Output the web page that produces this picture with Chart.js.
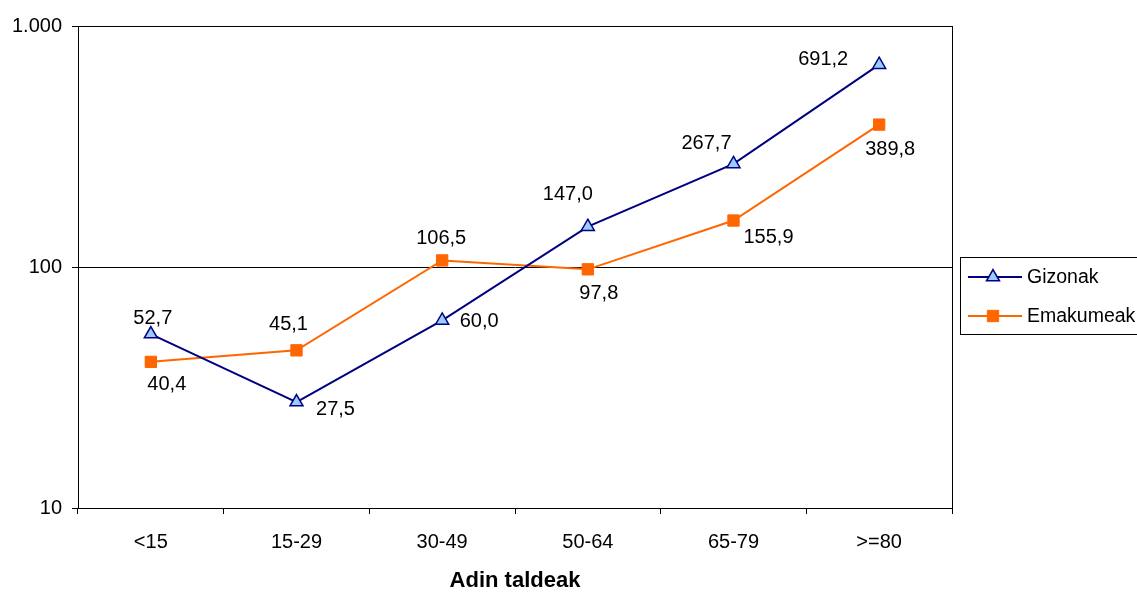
<!DOCTYPE html>
<html>
<head>
<meta charset="utf-8">
<script src="https://cdn.jsdelivr.net/npm/chart.js@4/dist/chart.umd.min.js"></script>
<style>
  body { margin: 0; background: #fff; }
  canvas { display: block; }
</style>
</head>
<body>
<canvas id="chart" width="1137" height="594"></canvas>
<script>
const categories = ['<15', '15-29', '30-49', '50-64', '65-79', '>=80']
const gizonak = [52.7, 27.5, 60.0, 147.0, 267.7, 691.2]
const emakumeak = [40.4, 45.1, 106.5, 97.8, 155.9, 389.8]
const yTicks = [10, 100, 1000]
const xTitle = 'Adin taldeak'

// where each value label sits relative to its point (dx, dy)
const labelOffsets = [
  [[2, -17], [39, 6], [37, 0], [-20, -33], [-27, -21], [-56, -6]],
  [[16, 22], [-8, -27], [-1, -23], [11, 23], [35, 16], [11, 24]]
]

const FONT = 'Liberation Sans, Arial, sans-serif'
const fmtNum = (v) => v.toFixed(1).replace('.', ',')
const fmtTick = (v) => String(v).replace(/\B(?=(\d{3})+(?!\d))/g, '.')

const frame = {
  id: 'frame',
  beforeDatasetsDraw(chart) {
    const { ctx, chartArea: a } = chart
    ctx.save()
    ctx.strokeStyle = '#000'
    ctx.lineWidth = 1
    ctx.strokeRect(Math.round(a.left) + 0.5, Math.round(a.top) + 0.5,
      Math.round(a.right - a.left), Math.round(a.bottom - a.top))
    ctx.restore()
  }
}

const valueLabels = {
  id: 'valueLabels',
  afterDatasetsDraw(chart) {
    const ctx = chart.ctx
    ctx.save()
    ctx.font = '20px ' + FONT
    ctx.fillStyle = '#000'
    ctx.textAlign = 'center'
    ctx.textBaseline = 'middle'
    chart.data.datasets.forEach((ds, i) => {
      chart.getDatasetMeta(i).data.forEach((pt, j) => {
        const off = labelOffsets[i][j]
        ctx.fillText(fmtNum(ds.data[j]), pt.x + off[0], pt.y + off[1] + 1)
      })
    })
    ctx.restore()
  }
}

const boxLegend = {
  id: 'boxLegend',
  afterDraw(chart) {
    const ctx = chart.ctx
    ctx.save()
    ctx.strokeStyle = '#000'
    ctx.lineWidth = 1
    ctx.strokeRect(960.5, 257.5, 178, 77)
    ctx.font = '19.5px ' + FONT
    ctx.textBaseline = 'middle'
    ctx.textAlign = 'left'
    chart.data.datasets.forEach((ds, i) => {
      const y = 277 + i * 39
      ctx.strokeStyle = ds.borderColor
      ctx.lineWidth = 2
      ctx.beginPath()
      ctx.moveTo(968, y)
      ctx.lineTo(1022, y)
      ctx.stroke()
      ctx.fillStyle = ds.pointBackgroundColor
      ctx.strokeStyle = ds.pointBorderColor
      ctx.lineWidth = ds.pointBorderWidth
      Chart.helpers.drawPoint(ctx, {
        pointStyle: ds.pointStyle, radius: ds.pointRadius, borderWidth: ds.pointBorderWidth
      }, 993, y)
      ctx.fillStyle = '#000'
      ctx.fillText(ds.label, 1027, y + 1)
    })
    ctx.restore()
  }
}

new Chart(document.getElementById('chart'), {
  type: 'line',
  data: {
    labels: categories,
    datasets: [{
      label: 'Gizonak',
      data: gizonak,
      borderColor: '#000080',
      borderWidth: 2,
      pointStyle: 'triangle',
      pointRadius: 7.5,
      pointBackgroundColor: '#99ccff',
      pointBorderColor: '#000080',
      pointBorderWidth: 1.5,
      tension: 0
    }, {
      label: 'Emakumeak',
      data: emakumeak,
      borderColor: '#ff6600',
      borderWidth: 2,
      pointStyle: 'rect',
      pointRadius: 8,
      pointBackgroundColor: '#ff6600',
      pointBorderColor: '#ff6600',
      pointBorderWidth: 1,
      tension: 0
    }]
  },
  options: {
    responsive: false,
    animation: false,
    layout: { padding: { top: 26, right: 185, left: 0, bottom: 0 } },
    plugins: { legend: { display: false }, tooltip: { enabled: false } },
    scales: {
      x: {
        offset: true,
        grid: { offset: true, drawOnChartArea: false, tickLength: 6, color: '#000' },
        border: { color: '#000' },
        ticks: { color: '#000', padding: 16, font: { family: FONT, size: 20 } },
        title: {
          display: true, text: xTitle, color: '#000',
          font: { family: FONT, size: 22, weight: 'bold' },
          padding: { top: 0, bottom: 0 }
        },
        afterFit: (s) => { s.height = 86 }
      },
      y: {
        type: 'logarithmic',
        min: 10,
        max: 1000,
        afterBuildTicks: (s) => { s.ticks = yTicks.map(v => ({ value: v })) },
        grid: { color: '#000', tickLength: 6 },
        border: { color: '#000' },
        ticks: {
          color: '#000', padding: 10, font: { family: FONT, size: 20 },
          callback: (v) => fmtTick(v)
        },
        afterFit: (s) => { s.width = 78 }
      }
    }
  },
  plugins: [frame, valueLabels, boxLegend]
})
</script>
</body>
</html>
